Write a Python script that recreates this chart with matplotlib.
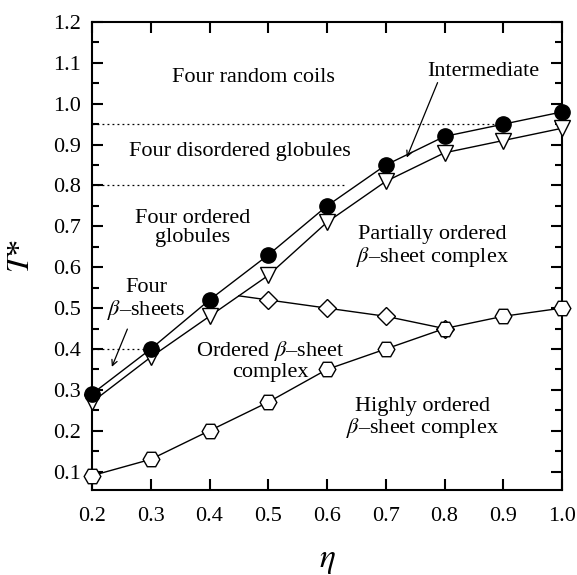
import matplotlib
matplotlib.use('Agg')
import matplotlib.pyplot as plt
from matplotlib.ticker import MultipleLocator

plt.rcParams['font.family'] = ['Liberation Serif', 'DejaVu Serif']
plt.rcParams['mathtext.fontset'] = 'stix'

# data
eta = [0.2, 0.3, 0.4, 0.5, 0.6, 0.7, 0.8, 0.9, 1.0]
t_circle = [0.29, 0.40, 0.52, 0.63, 0.75, 0.85, 0.92, 0.95, 0.98]
t_triangle = [0.27, 0.38, 0.48, 0.58, 0.71, 0.81, 0.88, 0.91, 0.94]
eta_diamond = [0.5, 0.6, 0.7, 0.8]
t_diamond = [0.52, 0.50, 0.48, 0.45]
diamond_start = (0.45, 0.53)
t_hexagon = [0.09, 0.13, 0.20, 0.27, 0.35, 0.40, 0.45, 0.48, 0.50]

# dotted boundary lines: (y, x end)
dotted = [(0.95, 0.9), (0.80, 0.63), (0.40, 0.30)]

fig = plt.figure(figsize=(5.77, 5.75), dpi=100)
ax = fig.add_axes([92 / 577, 1 - 490 / 575, 470 / 577, 468 / 575])

for y, xend in dotted:
    ax.plot([0.2, xend], [y, y], color='black', linestyle=(0, (1.5, 2.5)), linewidth=0.9, zorder=1)

ax.plot([diamond_start[0]] + eta_diamond, [diamond_start[1]] + t_diamond, color='black', lw=1.0, zorder=2)
ax.plot(eta_diamond, t_diamond, 'D', ms=9, mfc='white', mec='black', mew=1.0, zorder=3)
ax.plot(eta, t_hexagon, '-H', color='black', ms=12, mfc='white', mec='black', mew=1.0, lw=1.0,
        zorder=3, clip_on=False)
ax.plot(eta, t_triangle, '-v', color='black', ms=11, mfc='white', mec='black', mew=1.0, lw=1.0,
        zorder=4, clip_on=False)
ax.plot(eta, t_circle, '-o', color='black', ms=11, mfc='black', mec='black', lw=1.0,
        zorder=5, clip_on=False)

ax.set_xlim(0.2, 1.0)
ax.set_ylim(0.055, 1.2)
ax.yaxis.set_minor_locator(MultipleLocator(0.05))
ax.tick_params(which='both', direction='in', top=True, right=True, width=1.5, labelsize=16)
ax.tick_params(which='major', length=8)
ax.tick_params(which='minor', length=5)
ax.tick_params(axis='x', pad=12)
ax.tick_params(axis='y', pad=8)
ax.set_yticks([0.1 * i for i in range(1, 13)])
ax.set_yticklabels(['%.1f' % (0.1 * i) for i in range(1, 13)])
ax.set_xticks([0.2 + 0.1 * i for i in range(9)])
ax.set_xticklabels(['%.1f' % (0.2 + 0.1 * i) for i in range(9)])
for s in ax.spines.values():
    s.set_linewidth(1.5)

ax.set_xlabel(r'$\eta$', fontsize=24, labelpad=14)
ax.set_ylabel(r'$T$*', fontsize=23, labelpad=12)

fs = 16
ax.text(0.474, 1.063, 'Four random coils', ha='center', va='center', fontsize=fs)
ax.text(0.866, 1.078, 'Intermediate', ha='center', va='center', fontsize=fs)
ax.text(0.452, 0.882, 'Four disordered globules', ha='center', va='center', fontsize=fs)
ax.text(0.372, 0.695, 'Four ordered\nglobules', ha='center', va='center', fontsize=fs, linespacing=1.0)
ax.text(0.779, 0.650, 'Partially ordered\n' + r'$\beta$' + '–sheet complex', ha='center', va='center', fontsize=fs, linespacing=1.05)
ax.text(0.293, 0.520, 'Four\n' + r'$\beta$' + '–sheets', ha='center', va='center', fontsize=fs, linespacing=1.05)
ax.text(0.503, 0.372, 'Ordered ' + r'$\beta$' + '–sheet\ncomplex', ha='center', va='center', fontsize=fs, linespacing=1.05)
ax.text(0.763, 0.230, 'Highly ordered\n' + r'$\beta$' + '–sheet complex', ha='center', va='center', fontsize=fs, linespacing=1.05)

ax.annotate('', xy=(0.734, 0.862), xytext=(0.790, 1.058),
            arrowprops=dict(arrowstyle='->', color='black', lw=0.9))
ax.annotate('', xy=(0.232, 0.350), xytext=(0.262, 0.455),
            arrowprops=dict(arrowstyle='->', color='black', lw=0.9))

fig.savefig('out.png', dpi=100)
